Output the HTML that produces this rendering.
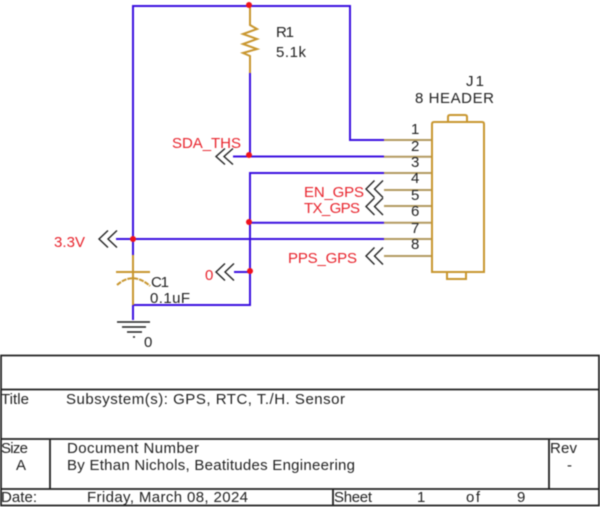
<!DOCTYPE html>
<html><head><meta charset="utf-8"><style>
html,body{margin:0;padding:0;background:#fff;width:600px;height:507px;overflow:hidden}
svg{display:block;filter:blur(0.4px)}
text{font-family:"Liberation Sans",sans-serif;font-size:15px;fill:#222}
.r{fill:#e8232c}
.b{stroke:#3c10e0;stroke-width:2;fill:none}
.t{stroke:#c8962e;stroke-width:2;fill:none}
.p{stroke:#b39a60;stroke-width:2;fill:none}
.k{stroke:#222;stroke-width:1.4;fill:none}
.l{stroke:#222;stroke-width:1.8;fill:none}
</style></head><body>
<svg width="600" height="507" viewBox="0 0 600 507" xmlns="http://www.w3.org/2000/svg">
<path class="b" d="M133 255V6H350V140H384"/>
<path class="b" d="M250 73V156M233 156.500H384M384 173H250V305H133V320M116 239H384M250 222.700H384M234 272H250"/>
<path class="p" d="M384 140H432M384 156.700H432M384 173H432M384 190H432M384 206H432M384 222.700H432M384 239H432M384 256H432"/>
<path class="t" d="M250 6V25L257 29 243 34 257 39 243 44 257 49 243 53 250 56V73"/>
<path class="t" d="M432 124Q432 122 434 122H482Q484 122 484 124V272H432ZM448 122V117Q448 115 450 115H465Q467 115 467 117V122M447 272V279H466V272"/>
<path class="t" d="M133 255V305M116 272H150"/>
<path class="t" d="M117 285Q133 271 150 286" stroke-dasharray="5 1"/>
<path class="k" d="M225 148.500L216 156.500 225 164.500M233 148.500L224 156.500 233 164.500"/>
<path class="k" d="M374.500 180.500L366 189 374.500 197.500M383 180.500L374.500 189 383 197.500"/>
<path class="k" d="M374.500 198L366 206.500 374.500 215M383 198L374.500 206.500 383 215"/>
<path class="k" d="M374.500 247.500L366 256 374.500 264.500M383 247.500L374.500 256 383 264.500"/>
<path class="k" d="M108 230.500L99 239 108 247.500M117 230.500L108 239 117 247.500"/>
<path class="k" d="M225 263.500L216 272 225 280.500M234 263.500L225 272 234 280.500"/>
<path d="M117 322H150M122 327H146M127 332H142M133 337H135" stroke="#222" stroke-width="1.600" fill="none"/>
<circle cx="249" cy="5" r="3" fill="#f0101c"/>
<circle cx="249" cy="155" r="3" fill="#f0101c"/>
<circle cx="249" cy="222" r="3" fill="#f0101c"/>
<circle cx="133" cy="239" r="3" fill="#f0101c"/>
<circle cx="250" cy="271" r="3" fill="#f0101c"/>
<text x="276" y="37" textLength="18">R1</text><text x="276" y="57" textLength="30">5.1k</text>
<text x="466" y="86" textLength="18">J1</text><text x="415" y="103" textLength="79">8 HEADER</text>
<text x="411" y="134">1</text><text x="411" y="151">2</text><text x="411" y="167">3</text><text x="411" y="183">4</text><text x="411" y="200">5</text><text x="411" y="216">6</text><text x="411" y="233">7</text><text x="411" y="249">8</text>
<text class="r" x="172" y="148" textLength="69">SDA_THS</text>
<text class="r" x="304" y="197" textLength="60">EN_GPS</text>
<text class="r" x="304" y="213" textLength="56">TX_GPS</text>
<text class="r" x="288" y="263" textLength="69">PPS_GPS</text>
<text class="r" x="54" y="247" textLength="31">3.3V</text>
<text class="r" x="205" y="280">0</text>
<text x="151" y="287" textLength="18">C1</text><text x="150" y="303" textLength="40">0.1uF</text>
<text x="144" y="347">0</text>
<path class="l" d="M1 355.500H599V505.500H1ZM1 389.500H599M1 439H599M1 489H599M50 439V489M549 439V489M333 489V505"/>
<text x="1" y="404" textLength="28">Title</text>
<text x="66" y="404" textLength="279">Subsystem(s): GPS, RTC, T./H. Sensor</text>
<text x="1" y="453" textLength="27">Size</text>
<text x="16" y="470">A</text>
<text x="67" y="453" textLength="132">Document Number</text>
<text x="67" y="470" textLength="288">By Ethan Nichols, Beatitudes Engineering</text>
<text x="550" y="453" textLength="27">Rev</text>
<text x="567" y="470">-</text>
<text x="1" y="502" textLength="36">Date:</text>
<text x="87" y="502" textLength="161">Friday, March 08, 2024</text>
<text x="334" y="502" textLength="38">Sheet</text>
<text x="417" y="502">1</text>
<text x="466" y="502" textLength="14">of</text>
<text x="517" y="502">9</text>
</svg>
</body></html>
